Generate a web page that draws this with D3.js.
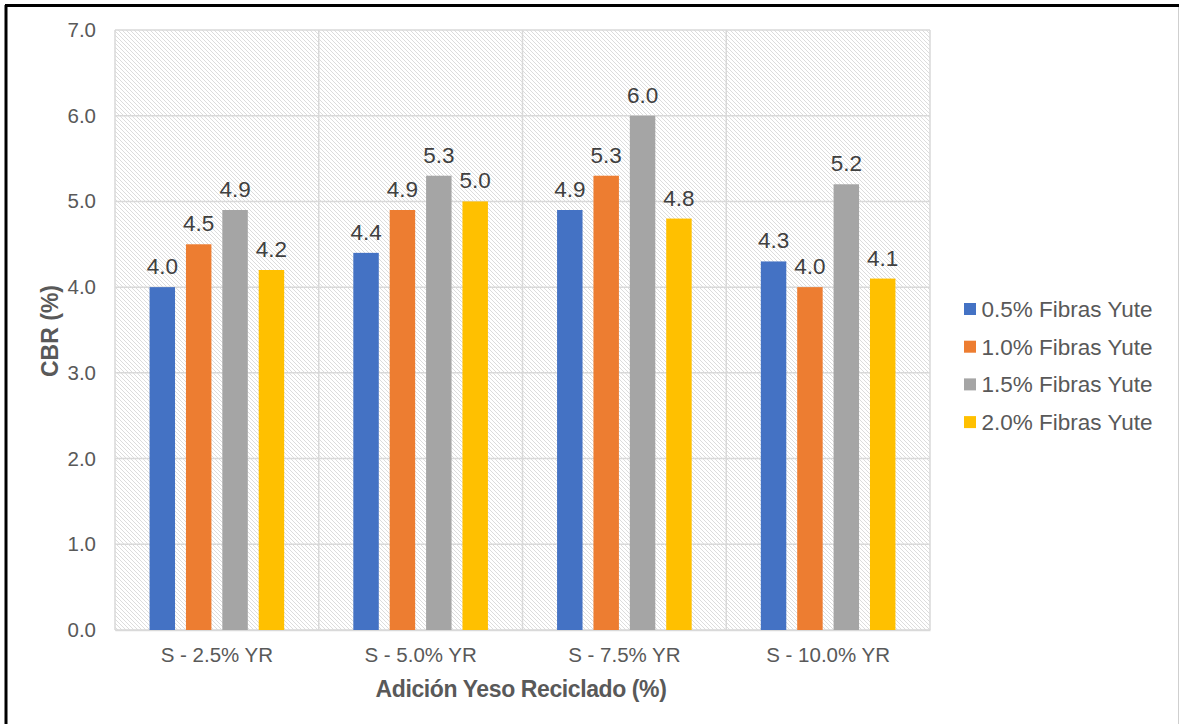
<!DOCTYPE html>
<html><head><meta charset="utf-8">
<script src="https://cdn.jsdelivr.net/npm/d3@7"></script>
<style>body{margin:0;background:#fff}svg{display:block}</style>
</head><body><svg id="c" width="1179" height="724"></svg>
<script>
const categories = ["S - 2.5% YR", "S - 5.0% YR", "S - 7.5% YR", "S - 10.0% YR"];
const seriesNames = ["0.5% Fibras Yute", "1.0% Fibras Yute", "1.5% Fibras Yute", "2.0% Fibras Yute"];
const fibra05 = [4.0, 4.4, 4.9, 4.3];
const fibra10 = [4.5, 4.9, 5.3, 4.0];
const fibra15 = [4.9, 5.3, 6.0, 5.2];
const fibra20 = [4.2, 5.0, 4.8, 4.1];
const yTicks = [0, 1, 2, 3, 4, 5, 6, 7];
const colors = ["#4472C4", "#ED7D31", "#A5A5A5", "#FFC000"];
const seriesValues = [fibra05, fibra10, fibra15, fibra20];

(function () {
const svg = d3.select("#c");
const font = "'Liberation Sans', Arial, sans-serif";

// frame
svg.append("rect").attr("x", 0).attr("y", 0).attr("width", 1179).attr("height", 724).attr("fill", "#fff");
svg.append("line").attr("x1", 6).attr("x2", 6).attr("y1", 5).attr("y2", 724).attr("stroke", "#000").attr("stroke-width", 3);
svg.append("line").attr("x1", 5).attr("x2", 1179).attr("y1", 5.5).attr("y2", 5.5).attr("stroke", "#000").attr("stroke-width", 3);
svg.append("line").attr("x1", 1178.5).attr("x2", 1178.5).attr("y1", 7).attr("y2", 724).attr("stroke", "#cfcfcf").attr("stroke-width", 1);

// hatch pattern
const defs = svg.append("defs");
const pat = defs.append("pattern").attr("id", "hatch").attr("patternUnits", "userSpaceOnUse")
  .attr("width", 4).attr("height", 4);
pat.append("rect").attr("width", 4).attr("height", 4).attr("fill", "#fff");
pat.append("path").attr("d", "M-1,-1 L5,5 M-1,3 L1,5 M3,-1 L5,1").attr("stroke", "#dcdcdc").attr("stroke-width", 1);

const pl = 115, pr = 930, pt = 30, pb = 630;
const x = d3.scaleBand().domain(categories).range([pl, pr]).paddingInner(0).paddingOuter(0);
const y = d3.scaleLinear().domain([0, 7]).range([pb, pt]);
const xs = d3.scaleBand().domain(d3.range(4)).range([0, x.bandwidth()]).paddingInner(0.30).paddingOuter(0.95);

svg.append("rect").attr("x", pl).attr("y", pt).attr("width", pr - pl).attr("height", pb - pt)
  .attr("fill", "url(#hatch)");

// gridlines
svg.append("g").selectAll("line").data(yTicks).join("line")
  .attr("x1", pl).attr("x2", pr).attr("y1", d => y(d)).attr("y2", d => y(d))
  .attr("stroke", "#d9d9d9").attr("stroke-width", 1.5);
const vlines = categories.map(c => x(c)).concat([pr]);
svg.append("g").selectAll("line").data(vlines).join("line")
  .attr("x1", d => d).attr("x2", d => d).attr("y1", pt).attr("y2", pb)
  .attr("stroke", "#d9d9d9").attr("stroke-width", 1.5);

// y axis
const yAxis = d3.axisLeft(y).tickValues(yTicks).tickFormat(d3.format(".1f")).tickSize(0).tickPadding(19);
const ga = svg.append("g").attr("transform", `translate(${pl},0)`).call(yAxis);
ga.select(".domain").remove();
ga.selectAll("text").attr("font-family", font).attr("font-size", 20.5).attr("fill", "#595959");

// x axis
const xAxis = d3.axisBottom(x).tickSize(0).tickPadding(17.5);
const gx = svg.append("g").attr("transform", `translate(0,${pb})`).call(xAxis);
gx.select(".domain").attr("stroke", "#d9d9d9").attr("stroke-width", 1.5);
gx.selectAll("text").attr("font-family", font).attr("font-size", 20.5).attr("fill", "#595959");

// bars
seriesValues.forEach((vals, si) => {
  const g = svg.append("g");
  g.selectAll("rect").data(vals).join("rect")
    .attr("x", (d, i) => x(categories[i]) + xs(si))
    .attr("width", xs.bandwidth())
    .attr("y", d => y(d))
    .attr("height", d => y(0) - y(d))
    .attr("fill", colors[si]);
  g.selectAll("text").data(vals).join("text")
    .attr("x", (d, i) => x(categories[i]) + xs(si) + xs.bandwidth() / 2)
    .attr("y", d => y(d) - 13)
    .attr("text-anchor", "middle")
    .attr("font-family", font).attr("font-size", 22.5).attr("fill", "#404040")
    .text(d => d3.format(".1f")(d));
});

// axis titles
svg.append("text").attr("transform", `translate(58,${331}) rotate(-90)`)
  .attr("text-anchor", "middle").attr("font-family", font).attr("font-size", 23)
  .attr("font-weight", "bold").attr("fill", "#595959").text("CBR (%)");
svg.append("text").attr("x", 521).attr("y", 697)
  .attr("text-anchor", "middle").attr("font-family", font).attr("font-size", 23)
  .attr("font-weight", "bold").attr("fill", "#595959").attr("letter-spacing", -0.4).text("Adición Yeso Reciclado (%)");

// legend
const lg = svg.append("g").attr("transform", "translate(964,309)");
seriesNames.forEach((n, i) => {
  lg.append("rect").attr("x", 0).attr("y", i * 37.7 - 6).attr("width", 12).attr("height", 12).attr("fill", colors[i]);
  lg.append("text").attr("x", 17.5).attr("y", i * 37.7 + 8).attr("font-family", font).attr("font-size", 22.5)
    .attr("fill", "#595959").text(n);
});
})();
</script></body></html>
